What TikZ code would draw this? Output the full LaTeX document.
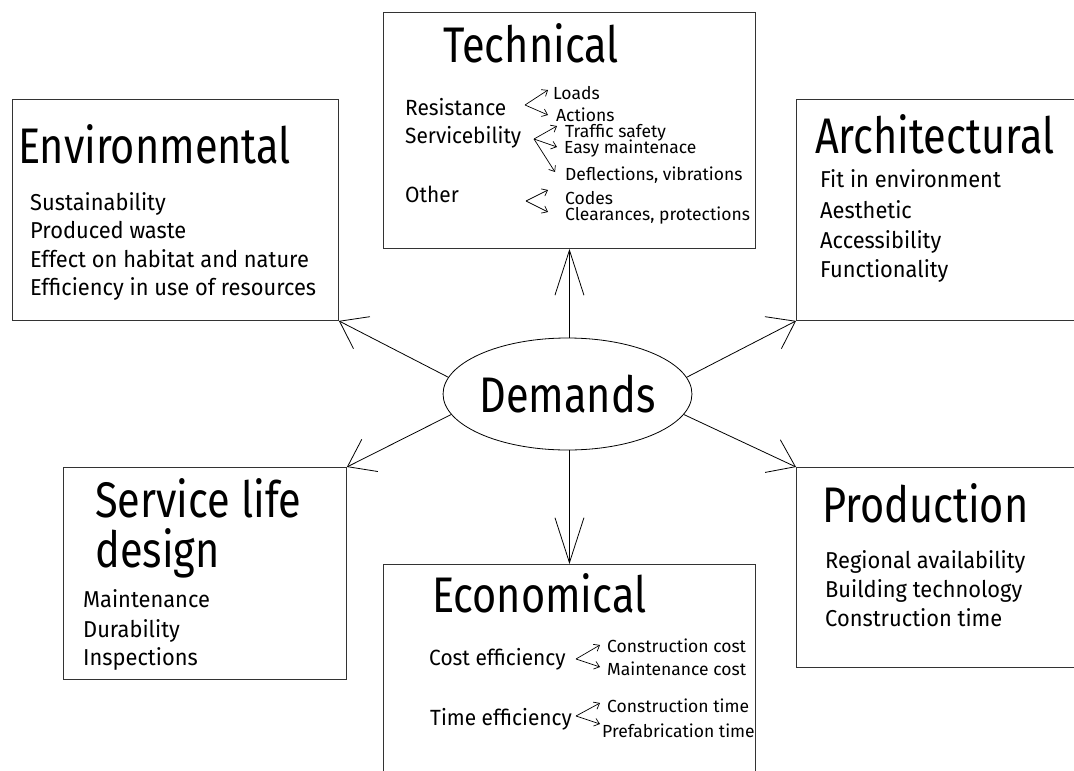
\documentclass[tikz,border=0pt]{standalone}
\usepackage{fontspec}
\setmainfont{Fira Sans}[FakeStretch=0.95]
\newfontfamily\titlefont{Fira Sans}[FakeStretch=0.83]
\newfontfamily\subfont{Fira Sans}[FakeStretch=1.0]
\usetikzlibrary{arrows.meta,shapes.geometric}
\begin{document}
\begin{tikzpicture}[x=1pt,y=-1pt,
  box/.style={draw=black!80, line width=0.9pt, inner sep=0, anchor=north west},
  ttl/.style={anchor=base west, inner sep=0, font=\titlefont\fontsize{50}{50}\selectfont},
  itm/.style={anchor=base west, inner sep=0, font=\fontsize{23}{23}\selectfont},
  tmain/.style={anchor=base west, inner sep=0, font=\fontsize{22}{22}\selectfont},
  tsub/.style={anchor=base west, inner sep=0, font=\subfont\fontsize{17.5}{17.5}\selectfont},
  bigarr/.style={-{Straight Barb[length=45pt,width=29pt]}, line width=0.8pt},
  diagarr/.style={-{Straight Barb[length=25pt,width=36pt]}, line width=0.8pt},
  smallarr/.style={-{Straight Barb[length=5pt,width=8pt]}, line width=0.7pt}]
\clip (0,0) rectangle (1074,771);
\fill[white] (0,0) rectangle (1074,771);

% boxes
\node[box, minimum width=372pt, minimum height=236pt] (tech) at (383,12) {};
\node[box, minimum width=326pt, minimum height=221pt] (env) at (12,99) {};
\node[box, minimum width=300pt, minimum height=221pt] (arch) at (796,99) {};
\node[box, minimum width=300pt, minimum height=200pt] (prod) at (796,467) {};
\node[box, minimum width=283pt, minimum height=212pt] (serv) at (63,467) {};
\node[box, minimum width=372pt, minimum height=250pt] (econ) at (383,564) {};

% center
\node[draw, ellipse, line width=0.8pt, minimum width=229pt, minimum height=112pt, inner sep=0,
      font=\titlefont\fontsize{50}{50}\selectfont] (dem) at (567.5,394) {Demands};

% main arrows
\draw[bigarr] (tech.south |- dem.north) -- (tech.south);
\draw[bigarr] (tech.south |- dem.south) -- (tech.south |- econ.north);
\draw[diagarr] (dem.172) -- (env.south east);
\draw[diagarr] (dem.8) -- (arch.south west);
\draw[diagarr] (dem.190) -- (serv.north east);
\draw[diagarr] (dem.350) -- (prod.north west);

% Technical
\node[ttl] (techT) at (443,62) {Technical};
\node[tmain] (res) at (405,115) {Resistance};
\node[tmain] (ser) at (405,143) {Servicebility};
\node[tmain] (oth) at (405,202) {Other};
\node[tsub] (loads) at (553,99) {Loads};
\node[tsub] (act) at (556,121) {Actions};
\node[tsub] (traf) at (565,137) {Traffic safety};
\node[tsub] (easy) at (564,153) {Easy maintenace};
\node[tsub] (defl) at (565,180) {Deflections, vibrations};
\node[tsub] (codes) at (565,204) {Codes};
\node[tsub] (clear) at (565,220) {Clearances, protections};
\coordinate (r0) at (525,105);
\coordinate (r1) at (548,90);
\coordinate (r2) at (548,115);
\draw[smallarr] (r0) -- (r1);
\draw[smallarr] (r0) -- (r2);
\coordinate (s0) at (534,139);
\coordinate (s1) at (557,126);
\coordinate (s2) at (557,147);
\coordinate (s3) at (555,172);
\draw[smallarr] (s0) -- (s1);
\draw[smallarr] (s0) -- (s2);
\draw[smallarr] (s0) -- (s3);
\coordinate (o0) at (526,201);
\coordinate (o1) at (548,190);
\coordinate (o2) at (548,212);
\draw[smallarr] (o0) -- (o1);
\draw[smallarr] (o0) -- (o2);

% Environmental
\node[ttl] (envT) at (18,163) {Environmental};
\node[itm] (e1) at (30,210) {Sustainability};
\node[itm] (e2) at (30,238) {Produced waste};
\node[itm] (e3) at (30,267) {Effect on habitat and nature};
\node[itm] (e4) at (30,295) {Efficiency in use of resources};

% Architectural
\node[ttl] (archT) at (815,153) {Architectural};
\node[itm] (a1) at (820,187) {Fit in environment};
\node[itm] (a2) at (820,218) {Aesthetic};
\node[itm] (a3) at (820,248) {Accessibility};
\node[itm] (a4) at (820,277) {Functionality};

% Production
\node[ttl] (prodT) at (822,522) {Production};
\node[itm] (p1) at (825,568) {Regional availability};
\node[itm] (p2) at (825,597) {Building technology};
\node[itm] (p3) at (825,626) {Construction time};

% Service life design
\node[ttl] (servT1) at (95,517) {Service life};
\node[ttl] (servT2) at (95,567) {design};
\node[itm] (v1) at (83,607) {Maintenance};
\node[itm] (v2) at (83,637) {Durability};
\node[itm] (v3) at (83,665) {Inspections};

% Economical
\node[ttl] (econT) at (432,612) {Economical};
\node[tmain] (cost) at (429,665) {Cost efficiency};
\node[tmain] (time) at (430,725) {Time efficiency};
\node[tsub] (cc) at (607,652) {Construction cost};
\node[tsub] (mc) at (607,675) {Maintenance cost};
\node[tsub] (ct) at (607,712) {Construction time};
\node[tsub] (pt) at (602,737) {Prefabrication time};
\coordinate (c0) at (576,659);
\coordinate (c1) at (600,645);
\coordinate (c2) at (600,667);
\draw[smallarr] (c0) -- (c1);
\draw[smallarr] (c0) -- (c2);
\coordinate (t0) at (576,716);
\coordinate (t1) at (600,703);
\coordinate (t2) at (600,724);
\draw[smallarr] (t0) -- (t1);
\draw[smallarr] (t0) -- (t2);
\end{tikzpicture}
\end{document}
